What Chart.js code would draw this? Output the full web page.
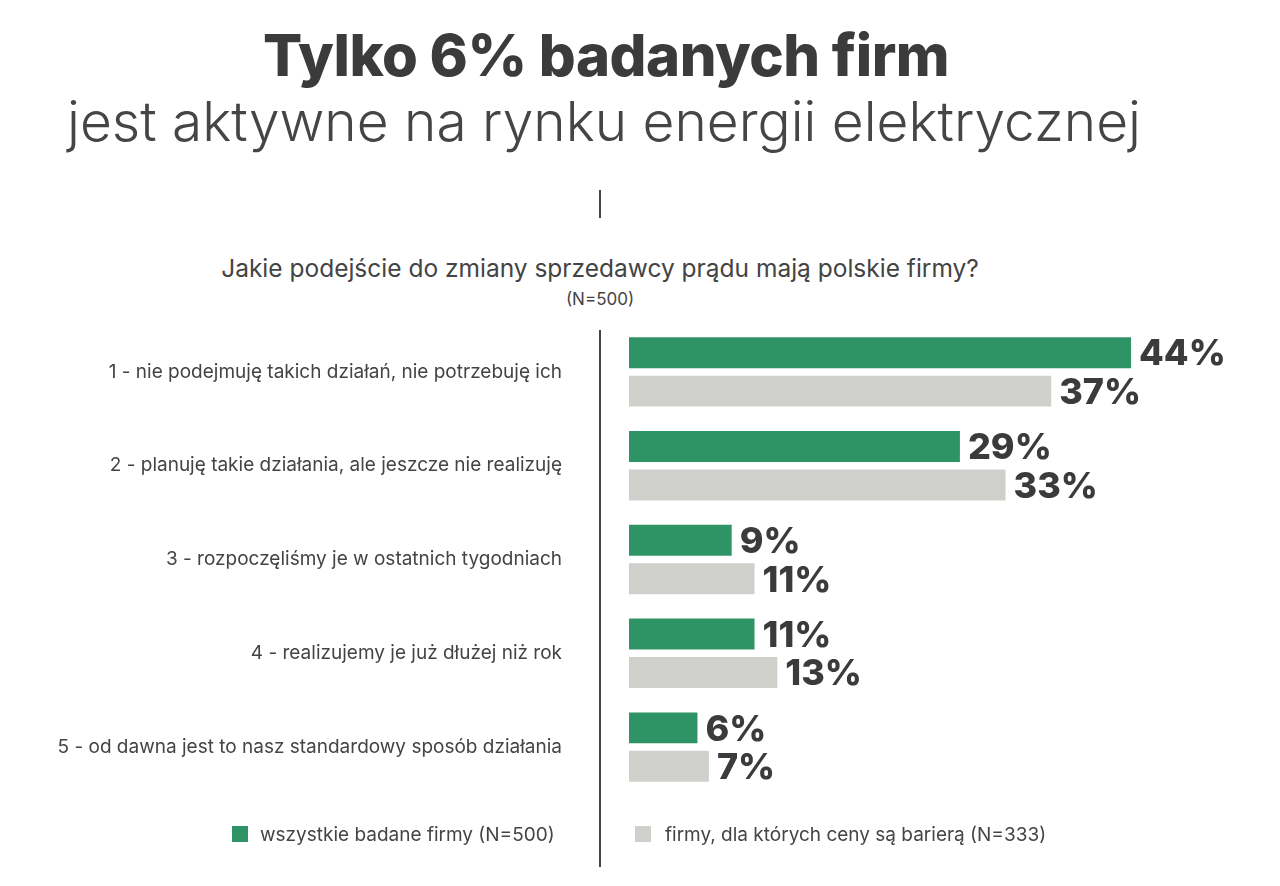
<!DOCTYPE html>
<html><head><meta charset="utf-8">
<script src="https://cdn.jsdelivr.net/npm/chart.js@4/dist/chart.umd.min.js"></script>
<style>
body{margin:0;width:1280px;height:886px;background:#fff;font-family:Inter,"Noto Sans",sans-serif;color:#3d3d3d;overflow:hidden;position:relative}
.t{position:absolute;white-space:nowrap}
#c{position:absolute;left:0;top:0}
</style></head><body>
<div class="t" style="left:0;width:1212px;text-align:center;top:20px;font-size:58px;font-weight:800;color:#3b3b3b;letter-spacing:-0.5px">Tylko 6% badanych firm</div>
<div class="t" style="left:0;width:1208px;text-align:center;top:88px;font-size:55px;font-weight:300;color:#454545">jest aktywne na rynku energii elektrycznej</div>
<div style="position:absolute;left:599px;top:190px;width:2px;height:28px;background:#444"></div>
<div class="t" style="left:0;width:1200px;text-align:center;top:253px;font-size:24.5px;color:#444">Jakie podejście do zmiany sprzedawcy prądu mają polskie firmy?</div>
<div class="t" style="left:0;width:1200px;text-align:center;top:289px;font-size:17px;color:#444">(N=500)</div>
<div style="position:absolute;left:599px;top:330px;width:2px;height:537px;background:#444"></div>
<canvas id="c" width="1280" height="886"></canvas>
<div style="position:absolute;left:232px;top:826px;width:16px;height:16px;background:#2e9466"></div>
<div class="t" style="left:260px;top:823px;font-size:19px;color:#444">wszystkie badane firmy (N=500)</div>
<div style="position:absolute;left:635px;top:826px;width:16px;height:16px;background:#cfcfcc"></div>
<div class="t" style="left:665px;top:823px;font-size:19px;color:#444">firmy, dla których ceny są barierą (N=333)</div>
<script>
const categories=["1 - nie podejmuję takich działań, nie potrzebuję ich","2 - planuję takie działania, ale jeszcze nie realizuję","3 - rozpoczęliśmy je w ostatnich tygodniach","4 - realizujemy je już dłużej niż rok","5 - od dawna jest to nasz standardowy sposób działania"];
const allFirms=[44,29,9,11,6];
const priceBarrier=[37,33,11,13,7];
const seriesNames=["wszystkie badane firmy (N=500)","firmy, dla których ceny są barierą (N=333)"];
const labelsPlugin={id:'lbl',afterDatasetsDraw(ch){const ctx=ch.ctx;ctx.save();ctx.font='800 36px Inter';ctx.fillStyle='#3b3b3b';ctx.textBaseline='middle';
ch.data.datasets.forEach((d,i)=>{ch.getDatasetMeta(i).data.forEach((b,j)=>{ctx.fillText(d.data[j]+'%',b.x+8,b.y+2);});});ctx.restore();}};
new Chart(document.getElementById('c'),{type:'bar',
data:{labels:categories,datasets:[
{label:seriesNames[0],data:allFirms,backgroundColor:'#2e9466'},
{label:seriesNames[1],data:priceBarrier,backgroundColor:'#cfcfcc'}]},
options:{indexAxis:'y',responsive:false,animation:false,
categoryPercentage:0.82,barPercentage:0.805,
layout:{padding:{left:0,right:12,top:325,bottom:92}},
plugins:{legend:{display:false},tooltip:{enabled:false}},
scales:{x:{display:false,min:0,max:56},
y:{grid:{display:false},border:{display:false},afterFit(s){s.width=629;},
ticks:{padding:59,color:'#444',font:{size:19,family:'Inter'}}}}},
plugins:[labelsPlugin]});
</script></body></html>
